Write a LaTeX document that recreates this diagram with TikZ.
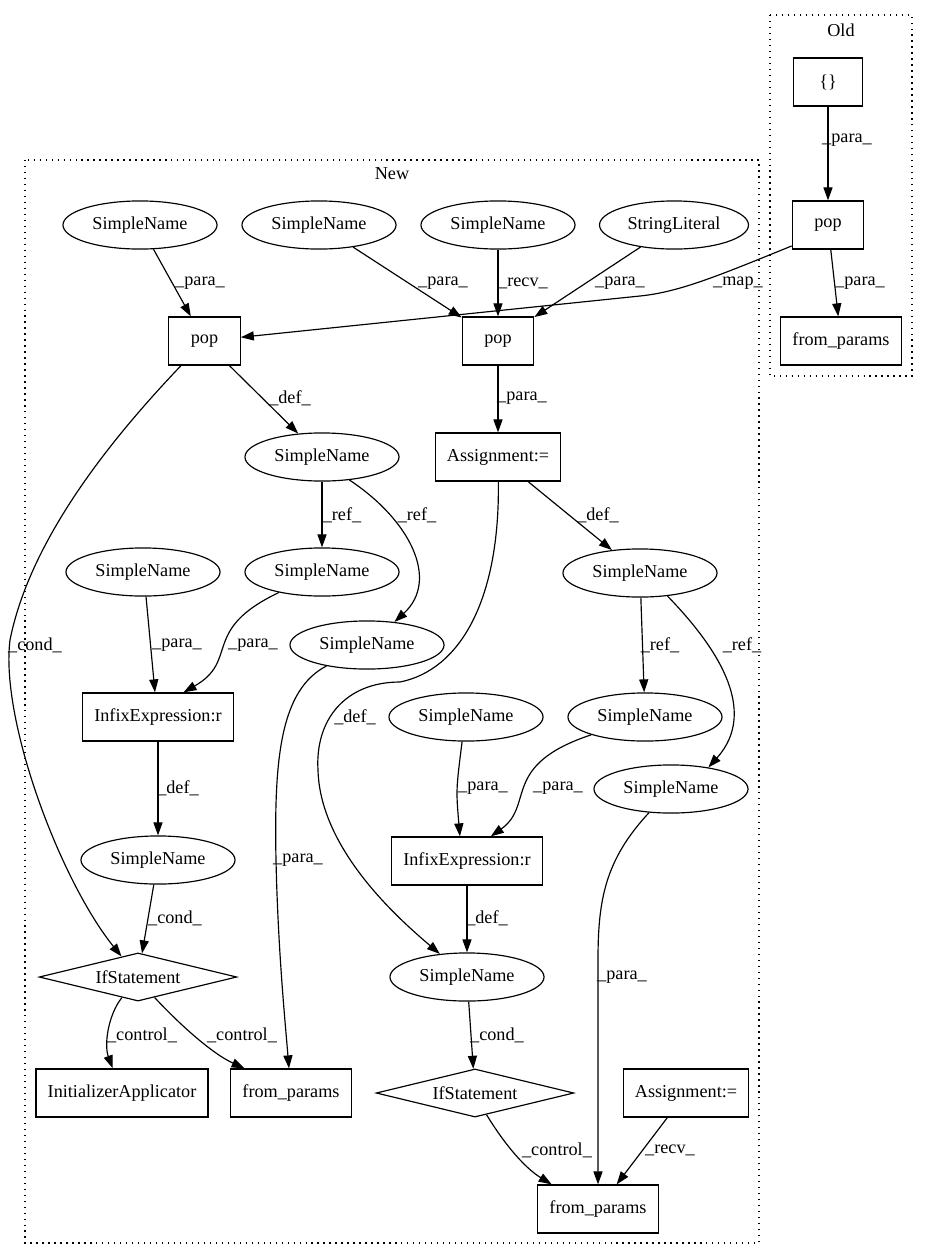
\documentclass[tikz,border=0pt]{standalone}
\usepackage{fontspec}
\setmainfont{Liberation Serif}
\usetikzlibrary{shapes.geometric,arrows.meta}

\begin{document}
\begin{tikzpicture}[x=0.7692pt, y=-0.7692pt,
  every node/.style={font=\fontsize{14}{16}\selectfont},
  box/.style={draw, rectangle, line width=0.9pt, minimum height=37pt, inner xsep=9pt},
  oval/.style={draw, ellipse, line width=0.9pt, minimum width=118.5pt, minimum height=37pt, inner sep=1pt},
  cond/.style={draw, diamond, aspect=4, line width=0.9pt, minimum width=152pt, minimum height=37pt, inner sep=1pt},
  edge/.style={-{Triangle[length=10pt,width=7pt]}, line width=0.9pt},
  lbl/.style={inner sep=0pt},
  cluster/.style={line width=0.9pt, dash pattern=on 1pt off 3.6pt}]
\useasboundingbox (0,0) rectangle (927,1260);

% Clusters
\draw[cluster] (770,15) rectangle (912,376);
\node (oldLbl) at (841,30) {Old};
\draw[cluster] (25,160) rectangle (759,1243);
\node (newLbl) at (392,174) {New};

% Old
\node[box, minimum width=53pt] (braceOld) at (828,82) {\{\}};
\node[box, minimum width=55pt] (popOld) at (828,225) {pop};
\node[box] (fromOld) at (841,341) {from\_params};

% New, upper part
\node[oval] (snParaA) at (140,225) {SimpleName};
\node[oval] (snParaB) at (319,225) {SimpleName};
\node[oval] (snRecv) at (498,225) {SimpleName};
\node[oval, minimum width=114.6pt] (strLit) at (674,225) {StringLiteral};
\node[box, minimum width=55pt] (popA) at (204.5,341) {pop};
\node[box, minimum width=55pt] (popB) at (498,341) {pop};
\node[oval] (snDefA) at (322,457) {SimpleName};
\node[box] (assignA) at (498,457) {Assignment:=};

% New, left branch
\node[oval] (snLeftA) at (143,572) {SimpleName};
\node[oval] (snRefA) at (322,572) {SimpleName};
\node[oval] (snUseA) at (367,645) {SimpleName};
\node[box] (infixA) at (158,717) {InfixExpression:r};
\node[oval] (snCondA) at (158,860) {SimpleName};
\node[cond] (ifA) at (138,977) {IfStatement};
\node[box] (initApp) at (122,1093) {InitializerApplicator};
\node[box] (fromA) at (291,1093) {from\_params};

% New, right branch
\node[oval] (snDefB) at (640,573) {SimpleName};
\node[oval] (snLeftB) at (466,717) {SimpleName};
\node[oval] (snRefB) at (645,717) {SimpleName};
\node[oval] (snUseB) at (671,789) {SimpleName};
\node[box] (infixB) at (467,861) {InfixExpression:r};
\node[oval] (snCondB) at (467,977) {SimpleName};
\node[cond] (ifB) at (475,1093) {IfStatement};
\node[box] (assignB) at (686,1093) {Assignment:=};
\node[box] (fromB) at (598,1209) {from\_params};

% Edges in Old
\draw[edge] (braceOld) -- (popOld) node[lbl] at (847,140) {\_para\_};
\draw[edge] (popOld) -- (fromOld) node[lbl] at (860,283) {\_para\_};
\draw[edge] (popOld.210) .. controls (720,275) and (680,292) .. (640,296) -- (popA)
  node[lbl] at (738,283) {\_map\_};

% Edges into the pops
\draw[edge] (snParaA) -- (popA) node[lbl] at (200,283) {\_para\_};
\draw[edge] (snParaB) -- (popB) node[lbl] at (443,283) {\_para\_};
\draw[edge] (snRecv) -- (popB) node[lbl] at (523,283) {\_recv\_};
\draw[edge] (strLit) -- (popB) node[lbl] at (620,283) {\_para\_};
\draw[edge] (popB) -- (assignA) node[lbl] at (522,398) {\_para\_};
\draw[edge] (popA) -- (snDefA) node[lbl] at (290,398) {\_def\_};

% Left branch
\draw[edge] (popA) .. controls (110,440) and (30,540) .. (10,640)
  .. controls (0,720) and (60,880) .. (ifA) node[lbl] at (35,645) {\_cond\_};
\draw[edge] (snDefA) -- (snRefA) node[lbl] at (342,515) {\_ref\_};
\draw[edge] (snDefA.-40) .. controls (410,520) and (440,580) .. (snUseA.40)
  node[lbl] at (417,515) {\_ref\_};
\draw[edge] (snLeftA.-83) -- (infixA.97) node[lbl] at (177,645) {\_para\_};
\draw[edge] (snRefA) .. controls (200,630) and (240,660) .. (infixA.44)
  node[lbl] at (253,645) {\_para\_};
\draw[edge] (infixA) -- (snCondA) node[lbl] at (178,788) {\_def\_};
\draw[edge] (snCondA) -- (ifA) node[lbl] at (175,918) {\_cond\_};
\draw[edge] (snUseA) .. controls (280,690) and (274,760) .. (276,860)
  .. controls (278,950) and (285,1020) .. (fromA) node[lbl] at (298,860) {\_para\_};
\draw[edge] (ifA.-128) .. controls (108,1015) and (104,1045) .. (initApp)
  node[lbl] at (142,1035) {\_control\_};
\draw[edge] (ifA.-51) .. controls (185,1030) and (215,1055) .. (fromA.152)
  node[lbl] at (242,1035) {\_control\_};

% Right branch
\draw[edge] (assignA) -- (snDefB) node[lbl] at (598,515) {\_def\_};
\draw[edge] (assignA) .. controls (500,600) and (460,670) .. (400,682)
  .. controls (345,682) and (315,720) .. (318,770)
  .. controls (320,850) and (400,920) .. (snCondB) node[lbl] at (355,717) {\_def\_};
\draw[edge] (snDefB) -- (snRefB) node[lbl] at (660,645) {\_ref\_};
\draw[edge] (snDefB.-40) .. controls (715,645) and (760,710) .. (snUseB.30)
  node[lbl] at (742,645) {\_ref\_};
\draw[edge] (snLeftB.-99) .. controls (456,790) .. (infixB.106) node[lbl] at (483,788) {\_para\_};
\draw[edge] (snRefB) .. controls (500,765) and (535,805) .. (infixB.46)
  node[lbl] at (558,788) {\_para\_};
\draw[edge] (infixB) -- (snCondB) node[lbl] at (487,918) {\_def\_};
\draw[edge] (snCondB) -- (ifB) node[lbl] at (497,1035) {\_cond\_};
\draw[edge] (snUseB) .. controls (605,860) and (598,900) .. (598,960) -- (fromB)
  node[lbl] at (622,977) {\_para\_};
\draw[edge] (ifB.-62) .. controls (505,1145) and (525,1168) .. (fromB.152)
  node[lbl] at (557,1150) {\_control\_};
\draw[edge] (assignB) -- (fromB) node[lbl] at (670,1150) {\_recv\_};
\end{tikzpicture}
\end{document}
